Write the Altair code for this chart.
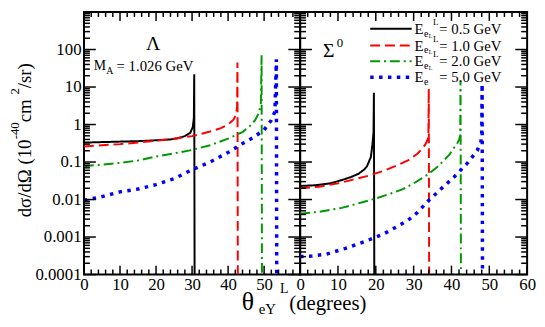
import altair as alt
import pandas as pd

SERIF = "Liberation Serif, Times New Roman, DejaVu Serif, serif"

# ---------------- data ----------------
energies = ["0.5", "1.0", "2.0", "5.0"]
colors = ["#000000", "#ff0000", "#009a00", "#0000ff"]
dashes = [[1, 0], [10, 5], [10, 4, 2, 4], [3.5, 5.5]]
widths = [2, 2, 2, 3.5]

# Lambda panel
lam_x_05 = [0, 5, 10, 15, 20, 24, 26, 28, 29.5, 30.2, 30.5, 30.6, 30.7]
lam_y_05 = [0.33, 0.34, 0.35, 0.36, 0.38, 0.40, 0.43, 0.49, 0.6, 0.85, 1.5, 22, 1e-4]
lam_x_10 = [0, 5, 10, 15, 20, 25, 30, 35, 38, 40, 41.5, 42.2, 42.5, 42.6, 42.7]
lam_y_10 = [0.26, 0.28, 0.30, 0.33, 0.37, 0.42, 0.49, 0.65, 0.8, 1.0, 1.35, 1.8, 3, 45, 1e-4]
lam_x_20 = [0, 5, 10, 15, 20, 25, 30, 35, 40, 44, 46, 47.5, 48.5, 49.1, 49.3, 49.4]
lam_y_20 = [0.078, 0.085, 0.095, 0.11, 0.14, 0.17, 0.21, 0.28, 0.42, 0.63, 0.9, 1.3, 2.0, 3.5, 70, 1e-4]
lam_x_50 = [0, 5, 10, 15, 20, 25, 30, 35, 40, 44, 47, 50, 52, 53, 53.4, 53.5]
lam_y_50 = [0.0095, 0.012, 0.016, 0.019, 0.025, 0.036, 0.062, 0.1, 0.18, 0.31, 0.45, 0.72, 1.3, 2.2, 55, 1e-4]

# Sigma0 panel
sig_x_05 = [0, 4, 8, 11, 13.5, 15.5, 17, 17.7, 18.7, 19.1, 19.4, 19.5, 19.6]
sig_y_05 = [0.023, 0.024, 0.027, 0.033, 0.040, 0.049, 0.064, 0.078, 0.137, 0.29, 0.62, 7, 1e-4]
sig_x_10 = [0, 5, 10, 14, 18, 22, 26, 28.5, 31, 32.5, 33.3, 33.9, 34.0, 34.1]
sig_y_10 = [0.020, 0.022, 0.027, 0.034, 0.043, 0.058, 0.085, 0.11, 0.166, 0.24, 0.32, 0.45, 9, 1e-4]
sig_x_20 = [0, 5, 11, 16, 20, 24, 27, 30, 33.7, 36, 38, 39.5, 40.7, 41.5, 42, 42.3, 42.4, 42.5]
sig_y_20 = [0.0042, 0.0047, 0.006, 0.0082, 0.0107, 0.0145, 0.0186, 0.027, 0.046, 0.07, 0.11, 0.16, 0.24, 0.31, 0.39, 0.5, 15, 1e-4]
sig_x_50 = [0, 3, 7, 12, 17, 22, 26, 28.5, 31, 33.7, 37.2, 40.7, 44.2, 46.8, 47.8, 48.0, 48.1, 48.2]
sig_y_50 = [0.00030, 0.00031, 0.00035, 0.0005, 0.00075, 0.0012, 0.002, 0.0028, 0.0045, 0.0089, 0.019, 0.04, 0.093, 0.2, 0.35, 0.6, 12, 1e-4]

lam_series = [(lam_x_05, lam_y_05), (lam_x_10, lam_y_10), (lam_x_20, lam_y_20), (lam_x_50, lam_y_50)]
sig_series = [(sig_x_05, sig_y_05), (sig_x_10, sig_y_10), (sig_x_20, sig_y_20), (sig_x_50, sig_y_50)]

y_label_values = [1e-4, 1e-3, 1e-2, 1e-1, 1, 10, 100]
x_labels_left = [0, 10, 20, 30, 40, 50]
x_labels_right = [0, 10, 20, 30, 40, 50, 60]

# ---------------- layout ----------------
W_LEFT, W_RIGHT, H = 219, 230, 266

XS = alt.Scale(domain=[0, 60], nice=False, zero=False)
YS = alt.Scale(type="log", domain=[1e-4, 1e3], nice=False)

one = pd.DataFrame({"k": [0]})


def txt(s, x, y, size, align="left", baseline="middle", angle=None):
    kw = dict(text=s, font=SERIF, fontSize=size, align=align, baseline=baseline, color="black")
    if angle is not None:
        kw["angle"] = angle
    return alt.Chart(one).mark_text(**kw).encode(x=alt.value(x), y=alt.value(y))


def x_axis(values):
    return alt.Axis(values=values, ticks=False, domain=False, grid=False, labelFont=SERIF,
                    labelFontSize=17, labelColor="black", labelPadding=2, title=None,
                    labelFlush=False, labelOverlap=False)


y_axis = alt.Axis(values=y_label_values, format="~g", ticks=False, domain=False, grid=False,
                  labelFont=SERIF, labelFontSize=17, labelColor="black", labelPadding=3,
                  title=None, labelOverlap=False)

ymaj = pd.DataFrame({"v": [10.0 ** n for n in range(-4, 4)]})
ymin = pd.DataFrame({"v": [k * 10.0 ** n for n in range(-4, 3) for k in range(2, 10)]})
xmaj = pd.DataFrame({"v": list(range(0, 61, 10))})
xmin = pd.DataFrame({"v": [v for v in range(0, 61, 2) if v % 10]})


def tick_layers(W, xaxis, yaxis):
    layers = []
    for df, L in [(ymaj, 12), (ymin, 6)]:
        for x0, x1 in [(0, L), (W - L, W)]:
            layers.append(alt.Chart(df).mark_rule(color="black", strokeWidth=1.5).encode(
                y=alt.Y("v:Q", scale=YS, axis=yaxis), x=alt.value(x0), x2=alt.value(x1)))
    for df, L in [(xmaj, 9), (xmin, 5)]:
        for y0, y1 in [(H - L, H), (0, L)]:
            layers.append(alt.Chart(df).mark_rule(color="black", strokeWidth=1.5).encode(
                x=alt.X("v:Q", scale=XS, axis=xaxis), y=alt.value(y0), y2=alt.value(y1)))
    return layers


def line_layers(series, xaxis, yaxis):
    layers = []
    for (xs, ys), c, d, w in zip(series, colors, dashes, widths):
        df = pd.DataFrame({"x": xs, "y": ys, "i": list(range(len(xs)))})
        layers.append(alt.Chart(df).mark_line(color=c, strokeDash=d, strokeWidth=w, clip=True,
                                              strokeCap="butt").encode(
            x=alt.X("x:Q", scale=XS, axis=xaxis),
            y=alt.Y("y:Q", scale=YS, axis=yaxis),
            order=alt.Order("i:Q")))
    return layers


# ----- left panel (Lambda) -----
xa_left = x_axis(x_labels_left)
left_layers = line_layers(lam_series, xa_left, y_axis) + tick_layers(W_LEFT, xa_left, y_axis)
left_layers += [
    txt("Λ", 70, 32, 20, align="center"),
    txt("M", 10, 55, 14),
    txt("A", 22.5, 60, 10),
    txt("= 1.026 GeV", 33, 55, 15),
]
# y-axis title (rotated pieces)
left_layers += [
    txt("dσ/dΩ (10", -60, 208, 19, angle=270),
    txt("-40", -70, 129, 13, angle=270),
    txt(" cm", -60, 111.7, 19, angle=270),
    txt("2", -70, 83.7, 13, angle=270),
    txt("/sr)", -60, 77.2, 19, angle=270),
]
# x-axis title (spans both panels)
left_layers += [
    txt("θ", 166, 294, 26, align="center"),
    txt("eY", 177, 301, 15),
    txt("L", 198.5, 281, 14),
    txt("(degrees)", 208, 296, 21),
]
left = alt.layer(*left_layers).properties(width=W_LEFT, height=H)

# ----- right panel (Sigma0) -----
xa_right = x_axis(x_labels_right)
right_layers = line_layers(sig_series, xa_right, None) + tick_layers(W_RIGHT, xa_right, None)
right_layers += [
    txt("Σ", 29, 40, 20, align="center"),
    txt("0", 37, 31, 13),
]
row_y = [17, 34, 50, 66]
for k, (e, c, d, w) in enumerate(zip(energies, colors, dashes, widths)):
    yy = row_y[k]
    right_layers.append(alt.Chart(one).mark_rule(color=c, strokeDash=d, strokeWidth=w,
                                                 strokeCap="butt").encode(
        x=alt.value(71), x2=alt.value(113), y=alt.value(yy)))
    right_layers.append(txt("E", 116, yy, 15))
    right_layers.append(txt("e", 125.5, yy + 5, 10))
    if k < 3:
        right_layers.append(txt("L", 130.2, yy + 7, 6))
        right_layers.append(txt("L", 134.5, yy - 7, 9))
    right_layers.append(txt("= " + e + " GeV", 141, yy, 15))
right = alt.layer(*right_layers).properties(width=W_RIGHT, height=H)

chart = alt.hconcat(left, right, spacing=0, bounds="flush").properties(
    padding=0, background="white"
).configure_view(stroke="black", strokeWidth=2)

chart.save("out.html", embed_options={"renderer": "svg", "actions": False})
